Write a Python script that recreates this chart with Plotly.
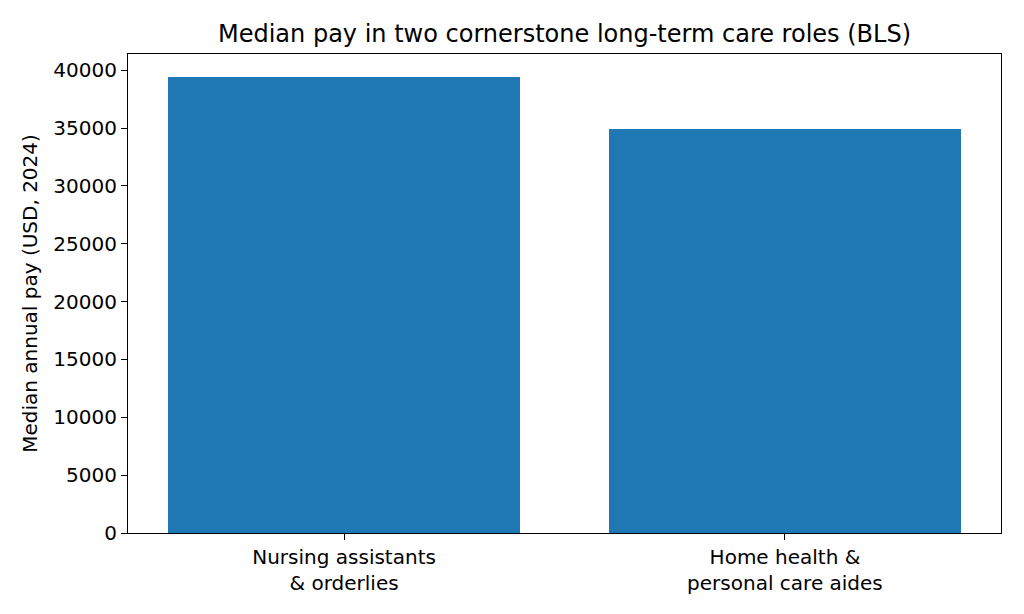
import plotly.graph_objects as go

categories = ["Nursing assistants<br>& orderlies", "Home health &<br>personal care aides"]
median_pay = [39430, 34900]
y_ticks = [0, 5000, 10000, 15000, 20000, 25000, 30000, 35000, 40000]

fig = go.Figure(go.Bar(
    x=[0, 1], y=median_pay, width=0.8,
    marker=dict(color="#1f77b4", line=dict(width=0)),
))

ymax = max(median_pay) * 1.05
fig.update_layout(
    width=1008, height=598,
    margin=dict(l=120, r=15, t=46, b=73),
    paper_bgcolor="white", plot_bgcolor="white",
    font=dict(family="DejaVu Sans", size=20, color="black"),
    title=dict(text="Median pay in two cornerstone long-term care roles (BLS)",
               x=0.5, xanchor="center", xref="paper", y=0.958, yanchor="middle",
               font=dict(size=24)),
    showlegend=False,
    bargap=0,
)
fig.update_xaxes(
    range=[-0.49, 1.49], tickvals=[0, 1], ticktext=categories,
    showgrid=False, zeroline=False,
    showline=True, linecolor="black", linewidth=1.2, mirror=True,
    ticks="outside", ticklen=6, tickcolor="black", tickwidth=1.2,
)
fig.update_yaxes(
    range=[0, ymax], tickvals=y_ticks, ticktext=[str(v) for v in y_ticks],
    showgrid=False, zeroline=False,
    showline=True, linecolor="black", linewidth=1.2, mirror=True,
    ticks="outside", ticklen=6, tickcolor="black", tickwidth=1.2,
    title=dict(text="Median annual pay (USD, 2024)", standoff=10, font=dict(size=20)),
)

fig.write_html("out.html")
